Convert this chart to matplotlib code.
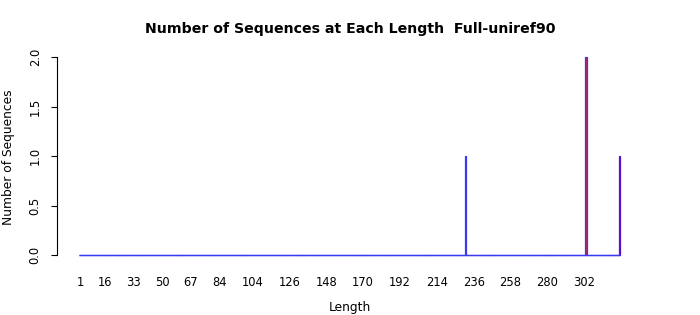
import numpy as np
import matplotlib
matplotlib.use("Agg")
import matplotlib.pyplot as plt

# sequence lengths observed (every length from min to max is a category)
min_length = 1
max_length = 323
hit_lengths = [231, 303, 323]
hit_counts = [1, 2, 1]
hit_fills = ["#d8305a", "#c8204a", "#5000a8"]
hit_edges = ["#3a3af0", "#3a3af0", "#5a10c8"]

tick_labels = [1, 16, 33, 50, 67, 84, 104, 126, 148, 170, 192, 214, 236, 258, 280, 302]
y_ticks = [0.0, 0.5, 1.0, 1.5, 2.0]

title = "Number of Sequences at Each Length  Full-uniref90"
edge_blue = "#3a3af0"
bar_w = 1 / 1.2

lengths = np.arange(min_length, max_length + 1)
counts = np.zeros(len(lengths))
fills = ["none"] * len(lengths)
edges = [edge_blue] * len(lengths)
for L, c, f, e in zip(hit_lengths, hit_counts, hit_fills, hit_edges):
    counts[L - min_length] = c
    fills[L - min_length] = f
    edges[L - min_length] = e

fig = plt.figure(figsize=(7.0, 3.15), dpi=100)
ax = fig.add_axes([57 / 700, 60 / 315, 585 / 700, 198 / 315])

ax.bar(lengths, counts, width=bar_w, color=fills, edgecolor=edges,
       linewidth=0.9, clip_on=False, zorder=2)
# empty lengths show up as a flat border line at zero
ax.hlines(0, lengths[0] - bar_w / 2, lengths[-1] + bar_w / 2, color=edge_blue,
          linewidth=1.0, zorder=3, clip_on=False)

ax.set_xlim(-12.7, 336.4)
ax.set_ylim(0, 2)

for side in ["top", "right", "bottom"]:
    ax.spines[side].set_visible(False)
ax.spines["left"].set_bounds(0, 2)
ax.spines["left"].set_linewidth(0.8)

ax.set_yticks(y_ticks)
ax.set_yticklabels([f"{v:.1f}" for v in y_ticks], rotation=90, va="center", fontsize=8.3)
ax.tick_params(axis="y", length=4, width=0.8, pad=7)

ax.set_xticks(tick_labels)
ax.set_xticklabels([str(t) for t in tick_labels], fontsize=8.3)
ax.tick_params(axis="x", length=0, pad=15)

fig.text(350 / 700, 1 - 29 / 315, title, ha="center", va="center",
         fontsize=10.2, fontweight="bold")
fig.text(350 / 700, 1 - 307 / 315, "Length", ha="center", va="center", fontsize=8.8)
fig.text(9 / 700, 1 - 157 / 315, "Number of Sequences", ha="center", va="center",
         rotation=90, fontsize=8.8)

fig.savefig("out.png", dpi=100)
